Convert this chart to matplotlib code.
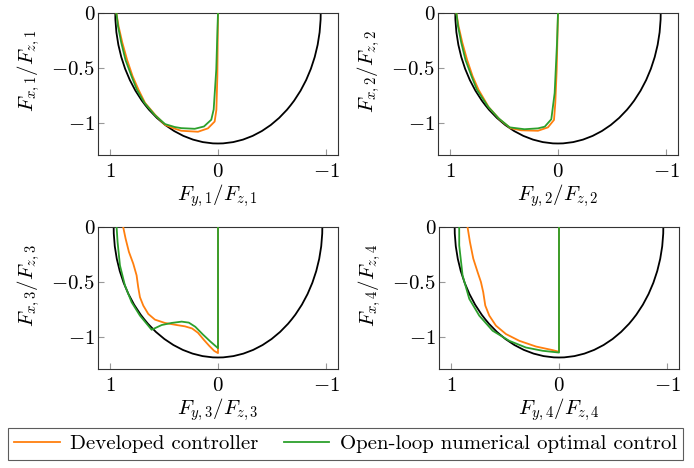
import numpy as np
import matplotlib as mpl
mpl.use("Agg")
import matplotlib.pyplot as plt
from matplotlib.patches import Arc

plt.rcParams["font.family"] = "serif"
plt.rcParams["font.serif"] = ["cmr10", "DejaVu Serif"]
plt.rcParams["mathtext.fontset"] = "cm"
plt.rcParams["axes.formatter.use_mathtext"] = True

ORANGE = "#ff7f0e"
GREEN = "#2ca02c"
FS = 15

# friction ellipse semi-axes (lateral, longitudinal) per wheel
ELL_A = [0.95, 0.95, 0.965, 0.965]
ELL_B = [1.19, 1.19, 1.19, 1.19]

# wheel 1
w1_dev_x = [0.94, 0.92, 0.885, 0.84, 0.79, 0.735, 0.675, 0.58, 0.49, 0.40, 0.34, 0.185, 0.093, 0.031, 0.015, 0.006, 0.0]
w1_dev_y = [0.0, -0.12, -0.27, -0.43, -0.576, -0.70, -0.82, -0.93, -1.02, -1.055, -1.074, -1.083, -1.052, -0.99, -0.883, -0.577, 0.0]
w1_ocp_x = [0.94, 0.925, 0.895, 0.855, 0.80, 0.75, 0.68, 0.585, 0.49, 0.40, 0.34, 0.215, 0.13, 0.062, 0.04, 0.016, 0.005, 0.0]
w1_ocp_y = [0.0, -0.12, -0.27, -0.43, -0.576, -0.70, -0.82, -0.93, -1.013, -1.04, -1.05, -1.056, -1.035, -0.973, -0.88, -0.515, -0.15, 0.0]

# wheel 2
w2_dev_x = [0.94, 0.92, 0.885, 0.84, 0.79, 0.735, 0.64, 0.54, 0.44, 0.34, 0.185, 0.093, 0.037, 0.025, 0.012, 0.0]
w2_dev_y = [0.0, -0.12, -0.27, -0.43, -0.576, -0.70, -0.86, -0.97, -1.05, -1.07, -1.074, -1.043, -0.975, -0.82, -0.515, 0.0]
w2_ocp_x = [0.94, 0.925, 0.895, 0.855, 0.80, 0.75, 0.648, 0.55, 0.447, 0.31, 0.185, 0.123, 0.062, 0.031, 0.009, 0.0]
w2_ocp_y = [0.0, -0.12, -0.27, -0.43, -0.576, -0.70, -0.853, -0.96, -1.043, -1.06, -1.052, -1.037, -0.969, -0.73, -0.27, 0.0]

# wheel 3
w3_dev_x = [0.877, 0.855, 0.824, 0.784, 0.753, 0.738, 0.722, 0.691, 0.645, 0.583, 0.491, 0.382, 0.306,
            0.24, 0.185, 0.13, 0.08, 0.035, 0.0, 0.0]
w3_dev_y = [0.0, -0.105, -0.227, -0.334, -0.441, -0.549, -0.64, -0.717, -0.793, -0.845, -0.875, -0.894, -0.906,
            -0.925, -0.965, -1.03, -1.085, -1.13, -1.15, 0.0]
w3_ocp_x = [0.938, 0.929, 0.907, 0.861, 0.799, 0.722, 0.614, 0.521, 0.429, 0.336, 0.27, 0.21, 0.14, 0.07, 0.0, 0.0]
w3_ocp_y = [0.0, -0.136, -0.35, -0.533, -0.686, -0.808, -0.937, -0.894, -0.875, -0.863, -0.872, -0.91, -0.98, -1.045, -1.105, 0.0]

# wheel 4
w4_dev_x = [0.846, 0.824, 0.793, 0.753, 0.722, 0.701, 0.682, 0.645, 0.583, 0.491, 0.367, 0.213, 0.058, 0.0, 0.0]
w4_dev_y = [0.0, -0.136, -0.288, -0.411, -0.502, -0.594, -0.716, -0.808, -0.9, -0.976, -1.038, -1.09, -1.123, -1.138, 0.0]
w4_ocp_x = [0.923, 0.923, 0.892, 0.83, 0.738, 0.614, 0.46, 0.306, 0.151, 0.0, 0.0]
w4_ocp_y = [0.0, -0.168, -0.441, -0.655, -0.808, -0.946, -1.038, -1.099, -1.129, -1.145, 0.0]

DEV = [(w1_dev_x, w1_dev_y), (w2_dev_x, w2_dev_y), (w3_dev_x, w3_dev_y), (w4_dev_x, w4_dev_y)]
OCP = [(w1_ocp_x, w1_ocp_y), (w2_ocp_x, w2_ocp_y), (w3_ocp_x, w3_ocp_y), (w4_ocp_x, w4_ocp_y)]

X_TICKS = [1, 0, -1]
Y_TICKS = [0, -0.5, -1]

W, H = 694, 468
# axes boxes in pixels: left, top, right, bottom
BOXES = [(98, 13, 338, 155), (438, 13, 678, 155),
         (98, 227, 338, 369), (439, 227, 679, 369)]

fig = plt.figure(figsize=(W / 100, H / 100), dpi=100)
handles = None
for i, (l, t, r, b) in enumerate(BOXES):
    ax = fig.add_axes([l / W, 1 - b / H, (r - l) / W, (b - t) / H])
    ax.add_patch(Arc((0, 0), 2 * ELL_A[i], 2 * ELL_B[i], theta1=180, theta2=360,
                     color="black", lw=1.3, zorder=2))
    hd, = ax.plot(*DEV[i], color=ORANGE, lw=1.3, zorder=3, label="Developed controller")
    ho, = ax.plot(*OCP[i], color=GREEN, lw=1.3, zorder=4,
                  label="Open-loop numerical optimal control")
    handles = [hd, ho]
    ax.set_xlim(1.11, -1.11)
    ax.set_ylim(-1.295, 0)
    ax.set_xticks(X_TICKS)
    ax.set_yticks(Y_TICKS)
    ax.set_yticklabels(["$0$", r"$-0.5$", r"$-1$"])
    ax.set_xticklabels(["$1$", "$0$", r"$-1$"])
    ax.tick_params(direction="in", length=4, width=0.8, color="#999999",
                   labelsize=FS, top=False, right=False)
    ax.tick_params(axis="x", pad=6)
    ax.tick_params(axis="y", pad=2)
    for sp in ax.spines.values():
        sp.set_color("#333333")
        sp.set_linewidth(0.8)
    n = i + 1
    ax.set_xlabel(rf"$F_{{y,{n}}}/F_{{z,{n}}}$", fontsize=FS)
    ax.set_ylabel(rf"$F_{{x,{n}}}/F_{{z,{n}}}$", fontsize=FS)
    ax.xaxis.set_label_coords(0.5, -0.19)
    ax.yaxis.set_label_coords(-0.235, 0.59)

leg = fig.legend(handles=handles, loc="center", bbox_to_anchor=(345.5 / W, 1 - 444 / H),
                 ncol=2, fontsize=FS, frameon=True, fancybox=False, handlelength=2.2,
                 columnspacing=1.2, handletextpad=0.5, borderpad=0.3)
leg.get_frame().set_edgecolor("#333333")
leg.get_frame().set_linewidth(0.8)

fig.savefig("out.png", dpi=100)
